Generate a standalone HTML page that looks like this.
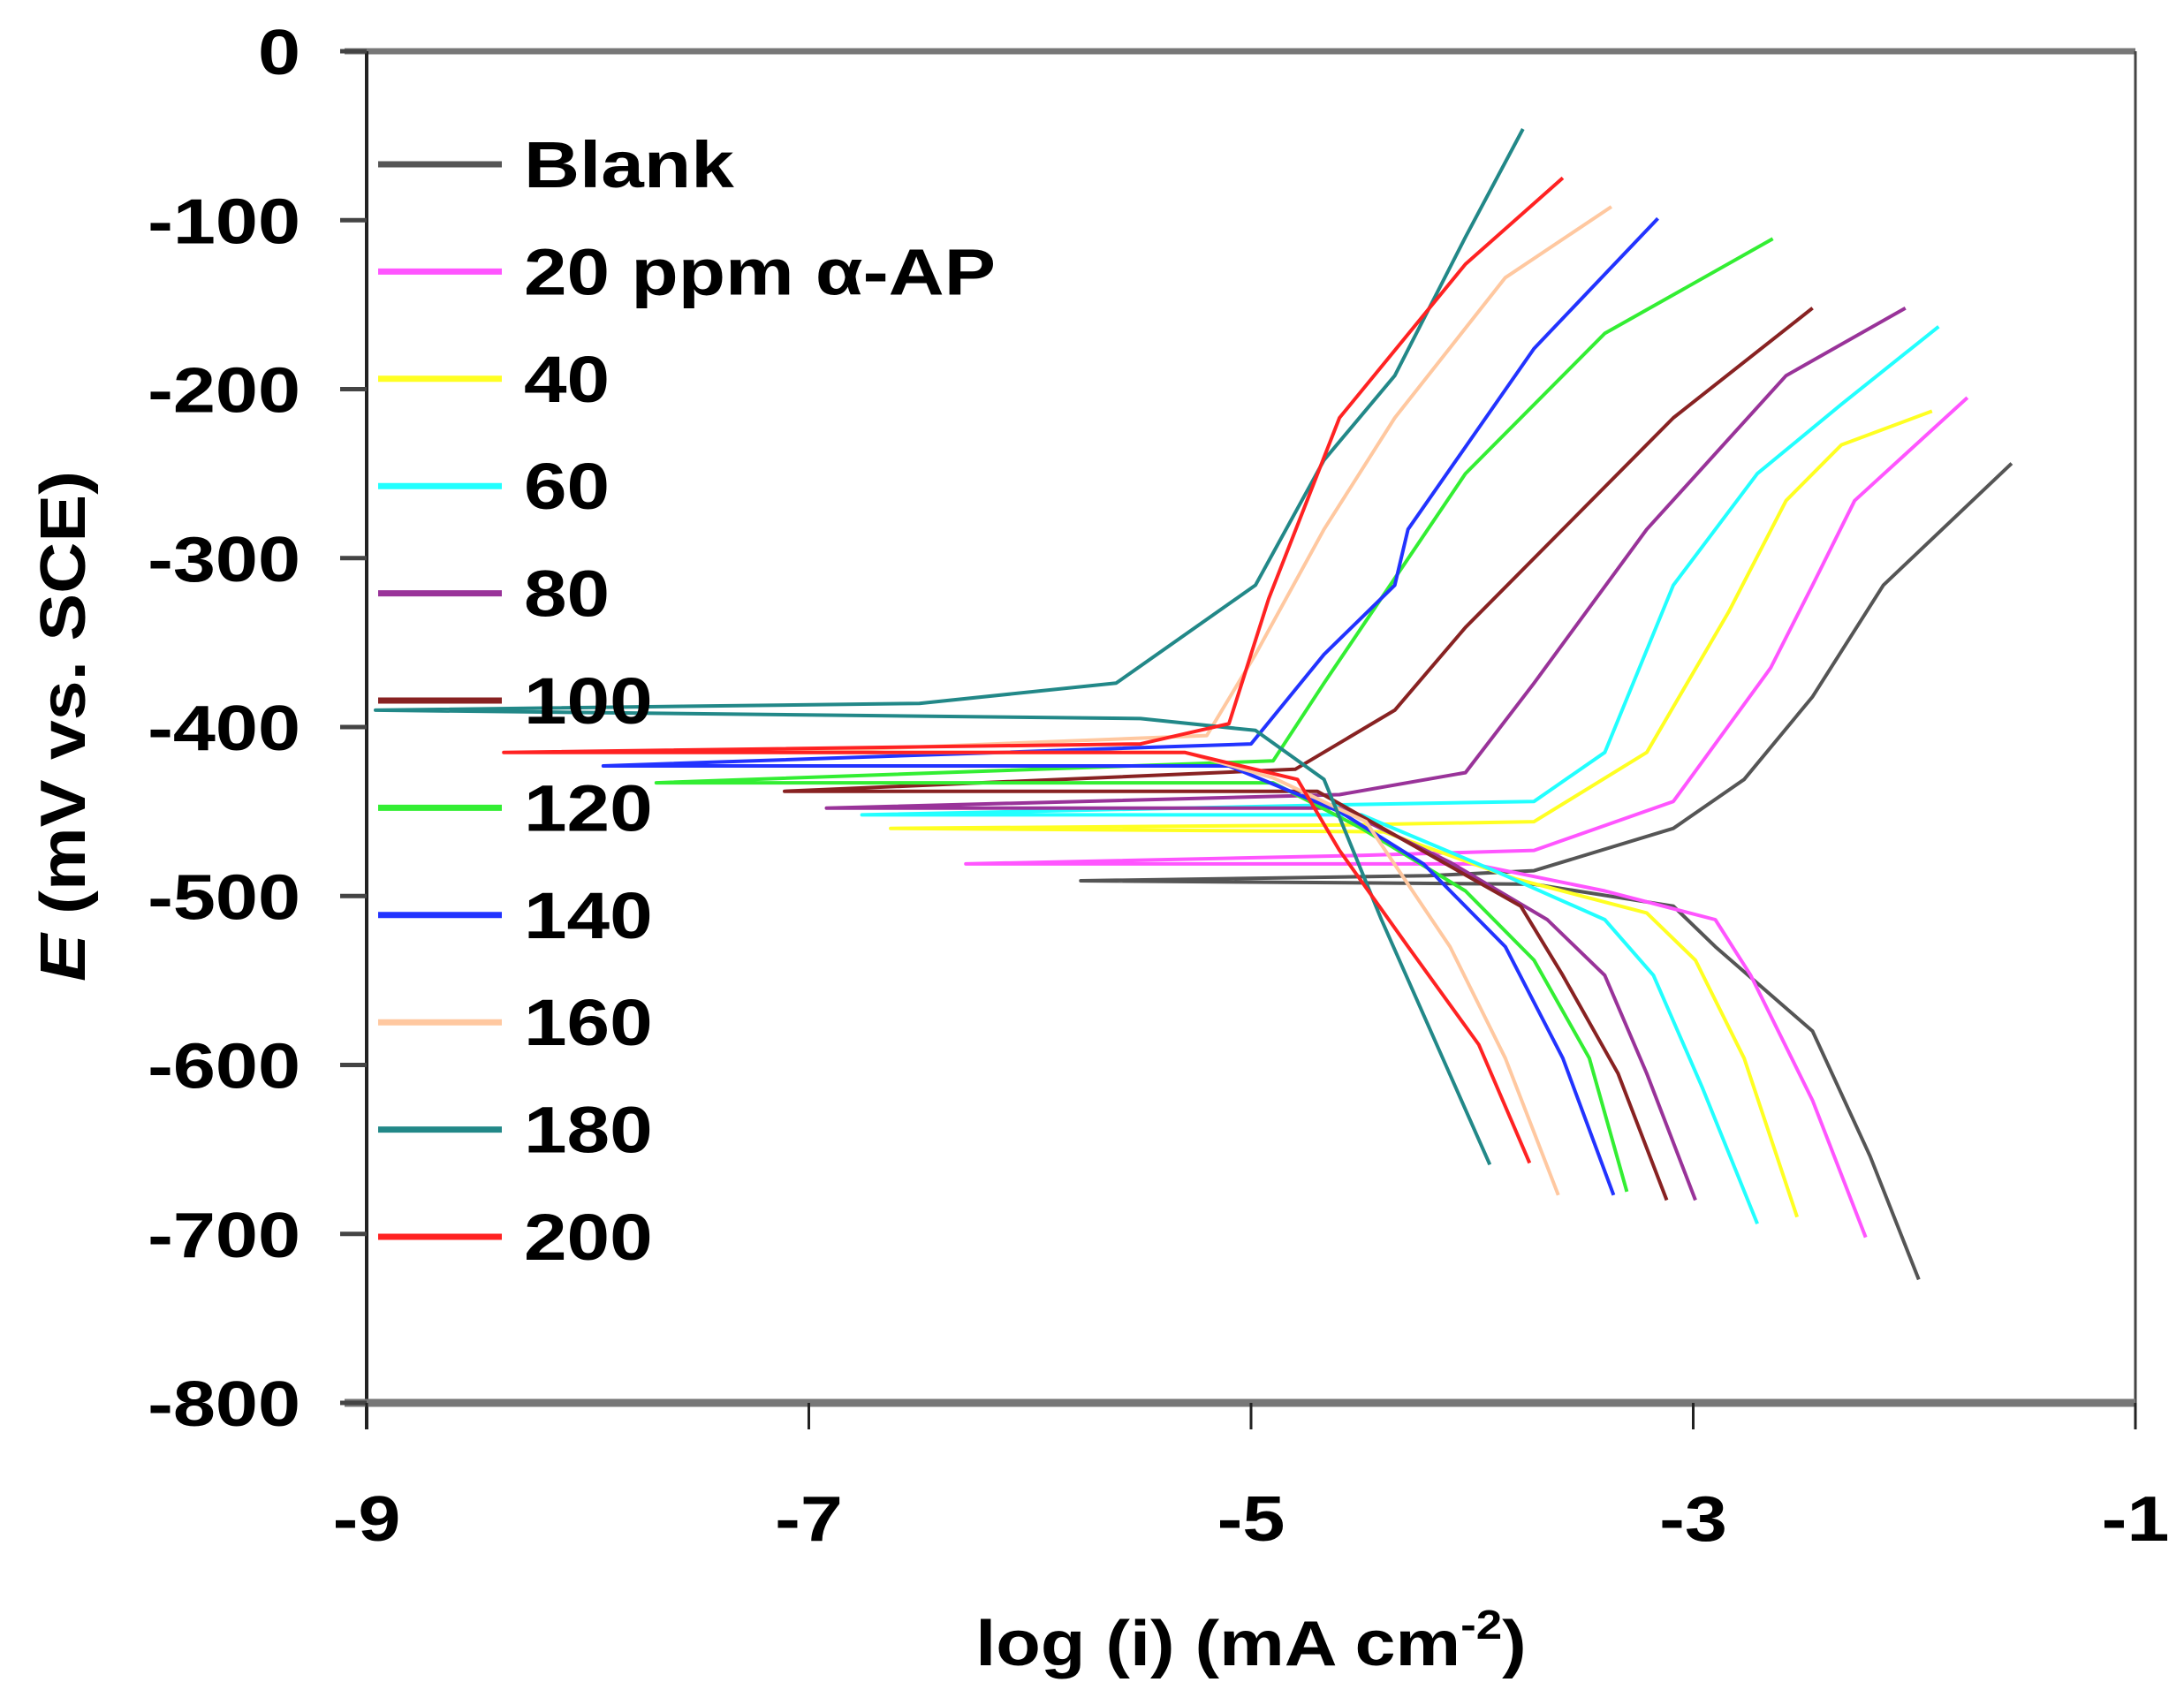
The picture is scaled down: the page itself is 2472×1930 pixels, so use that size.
<!DOCTYPE html>
<html><head><meta charset="utf-8"><style>
html,body{margin:0;padding:0;background:#fff;}
svg{display:block;font-family:"Liberation Sans",sans-serif;font-weight:bold;}
</style></head><body>
<svg id="chart" width="2472" height="1930" viewBox="0 0 2472 1930" xmlns="http://www.w3.org/2000/svg">
<g id="plot"></g>
<g id="axes"></g>
<g id="legend"></g>
<text transform="translate(96,822) rotate(-90) scale(1.12,1)" text-anchor="middle" font-size="72"><tspan font-style="italic">E</tspan> (mV vs. SCE)</text>
<text transform="translate(1416,1885) scale(1.15,1)" text-anchor="middle" font-size="72">log (i) (mA cm<tspan dy="-30" font-size="46">-2</tspan><tspan dy="30">)</tspan></text>
</svg>
<script>
const xTicks = [-9, -7, -5, -3, -1];
const yTicks = [0, -100, -200, -300, -400, -500, -600, -700, -800];
const seriesNames = ["Blank", "20 ppm \u03b1-AP", "40", "60", "80", "100", "120", "140", "160", "180", "200"];
const seriesColors = ["#555555", "#ff55ff", "#ffff22", "#22ffff", "#993399", "#882222", "#33ee33", "#2233ff", "#ffc8a0", "#228888", "#ff2222"];
const sBlank = [[-1.98,-727],[-2.2,-654],[-2.46,-580],[-2.9,-530],[-3.09,-506],[-3.72,-493],[-5.77,-491],[-4.2,-488],[-3.72,-485],[-3.09,-460],[-2.77,-431],[-2.46,-382],[-2.14,-316],[-1.56,-244]];
const s20 = [[-2.22,-702],[-2.46,-621],[-2.74,-547],[-2.9,-514],[-3.4,-497],[-4.0,-481],[-6.29,-481],[-4.5,-476],[-3.72,-473],[-3.09,-444],[-2.65,-365],[-2.46,-316],[-2.27,-266],[-2.17,-254],[-1.76,-205]];
const s40 = [[-2.53,-690],[-2.77,-596],[-2.99,-538],[-3.21,-510],[-3.8,-490],[-4.4,-462],[-6.63,-460],[-4.6,-458],[-3.72,-456],[-3.21,-415],[-2.84,-332],[-2.58,-266],[-2.33,-233],[-1.92,-213]];
const s60 = [[-2.71,-694],[-2.96,-613],[-3.18,-547],[-3.4,-514],[-3.9,-485],[-4.5,-452],[-6.76,-452],[-4.6,-446],[-3.72,-444],[-3.4,-415],[-3.09,-316],[-2.71,-250],[-2.33,-209],[-1.89,-163]];
const s80 = [[-2.99,-680],[-3.21,-605],[-3.4,-547],[-3.66,-514],[-4.1,-480],[-4.6,-448],[-6.92,-448],[-4.6,-440],[-4.03,-427],[-3.72,-374],[-3.21,-283],[-2.58,-192],[-2.04,-152]];
const s100 = [[-3.12,-680],[-3.34,-605],[-3.59,-547],[-3.78,-506],[-4.2,-475],[-4.7,-438],[-7.11,-438],[-4.8,-425],[-4.35,-390],[-4.03,-341],[-3.09,-217],[-2.46,-152]];
const s120 = [[-3.3,-675],[-3.47,-596],[-3.72,-538],[-4.03,-497],[-4.5,-460],[-4.9,-433],[-7.69,-433],[-4.9,-420],[-4.67,-374],[-4.03,-250],[-3.4,-167],[-2.64,-111]];
const s140 = [[-3.36,-677],[-3.59,-596],[-3.85,-530],[-4.22,-481],[-4.6,-450],[-5.1,-423],[-7.93,-423],[-5.0,-410],[-4.67,-357],[-4.35,-316],[-4.29,-283],[-3.72,-176],[-3.16,-99]];
const s160 = [[-3.61,-677],[-3.85,-596],[-4.1,-530],[-4.48,-456],[-4.9,-430],[-5.3,-415],[-7.13,-415],[-5.2,-405],[-4.98,-357],[-4.67,-283],[-4.35,-217],[-3.85,-134],[-3.37,-92]];
const s180 = [[-3.92,-659],[-4.16,-588],[-4.41,-514],[-4.67,-431],[-4.98,-402],[-5.5,-395],[-8.96,-390],[-6.5,-386],[-5.61,-374],[-4.98,-316],[-4.67,-242],[-4.35,-192],[-4.03,-110],[-3.77,-46]];
const s200 = [[-3.74,-658],[-3.97,-588],[-4.29,-530],[-4.6,-473],[-4.79,-431],[-5.3,-415],[-8.38,-415],[-5.5,-410],[-5.1,-398],[-4.92,-324],[-4.6,-217],[-4.03,-126],[-3.59,-75]];
const seriesData = [sBlank, s20, s40, s60, s80, s100, s120, s140, s160, s180, s200];

const X0=415, X1=2417, Y0=58, Y1=1588;
function xs(v){return X0+(v-(-9))/8*(X1-X0);}
function ys(v){return Y0+(0-v)/800*(Y1-Y0);}
const NS="http://www.w3.org/2000/svg";
function mk(tag,attrs,parent){const e=document.createElementNS(NS,tag);for(const k in attrs)e.setAttribute(k,attrs[k]);parent.appendChild(e);return e;}
const plot=document.getElementById('plot'), axes=document.getElementById('axes'), legend=document.getElementById('legend');

seriesData.forEach((pts,i)=>{
  const d=pts.map((p,j)=>(j?'L':'M')+xs(p[0]).toFixed(1)+' '+ys(p[1]).toFixed(1)).join(' ');
  const p=mk('path',{d:d,fill:'none',stroke:seriesColors[i],'stroke-width':4,'stroke-linejoin':'round'},plot);
  
  
});

let r;
r=mk('line',{x1:X0-25,y1:Y0,x2:X1,y2:Y0,stroke:'#777',"stroke-width":7},axes);

r=mk('line',{x1:X1,y1:Y0,x2:X1,y2:Y1+30,stroke:'#444',"stroke-width":3},axes);

r=mk('line',{x1:X0,y1:Y0,x2:X0,y2:Y1+30,stroke:'#222',"stroke-width":4},axes);

r=mk('line',{x1:X0-25,y1:Y1,x2:X1,y2:Y1,stroke:'#777',"stroke-width":9},axes);


yTicks.forEach(v=>{
  const t=mk('line',{x1:X0-30,y1:ys(v),x2:X0,y2:ys(v),stroke:'#444','stroke-width':5},axes);
  
  const l=mk('text',{transform:'translate(340,'+(ys(v)+26)+') scale(1.2,1)','text-anchor':'end','font-size':72,fill:'#000'},axes);
  l.textContent=v;
  
});
xTicks.forEach(v=>{
  const t=mk('line',{x1:xs(v),y1:Y1,x2:xs(v),y2:Y1+30,stroke:'#222','stroke-width':3},axes);
  
  const l=mk('text',{transform:'translate('+xs(v)+',1744) scale(1.2,1)','text-anchor':'middle','font-size':72,fill:'#000'},axes);
  l.textContent=v;
  
});

seriesNames.forEach((n,i)=>{
  const y=186+i*121.4;
  const l=mk('line',{x1:428,y1:y,x2:568,y2:y,stroke:seriesColors[i],'stroke-width':7},legend);
  
  const t=mk('text',{transform:'translate(593,'+(y+26)+') scale(1.18,1)','font-size':74,fill:'#000'},legend);
  t.textContent=n;
  
});
</script>
</body></html>
